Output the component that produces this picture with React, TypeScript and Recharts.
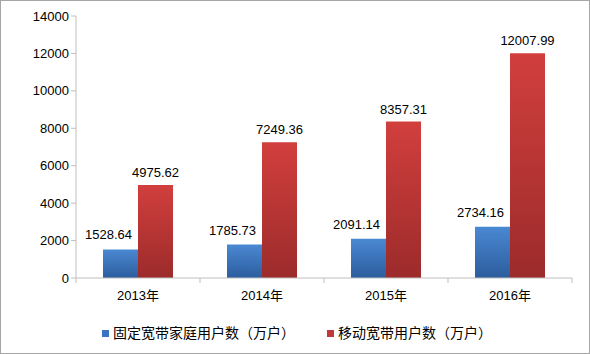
import { BarChart, Bar, XAxis, YAxis, Legend, LabelList } from 'recharts'

const years = ['2013年', '2014年', '2015年', '2016年']
const fixedUsers = [1528.64, 1785.73, 2091.14, 2734.16]
const mobileUsers = [4975.62, 7249.36, 8357.31, 12007.99]
const yTicks = [0, 2000, 4000, 6000, 8000, 10000, 12000, 14000]

const fixedName = '固定宽带家庭用户数（万户）'
const mobileName = '移动宽带用户数（万户）'

const data = years.map((year, i) => ({
  year,
  fixed: fixedUsers[i],
  mobile: mobileUsers[i],
}))

const font = '"Liberation Sans", "Noto Sans CJK SC", sans-serif'
const axisColor = '#bfbfbf'
const BAND = 124

const CategoryTick = (props: any) => {
  const { x, y, payload, index } = props
  return (
    <g>
      <line x1={x - BAND / 2} y1={y - 8} x2={x - BAND / 2} y2={y - 3} stroke={axisColor} />
      {index === years.length - 1 && (
        <line x1={x + BAND / 2} y1={y - 8} x2={x + BAND / 2} y2={y - 3} stroke={axisColor} />
      )}
      <text x={x} y={y + 14} textAnchor="middle" fontSize={13} fill="#000" fontFamily={font}>
        {payload.value}
      </text>
    </g>
  )
}

// blue labels sit a bit left of the bar, like the original
const FixedLabel = (props: any) => {
  const { x, y, width, value } = props
  return (
    <text x={x + width / 2 - 12} y={y - 10} textAnchor="middle" fontSize={13} fill="#000" fontFamily={font}>
      {value}
    </text>
  )
}

const renderLegend = () => (
  <div style={{ display: 'flex', justifyContent: 'flex-start', paddingLeft: 102, fontSize: 14, lineHeight: '20px', fontFamily: font, color: '#000' }}>
    <span style={{ display: 'flex', alignItems: 'center', marginRight: 32 }}>
      <span style={{ width: 7, height: 7, background: '#3a75c4', marginRight: 4, display: 'inline-block' }} />
      {fixedName}
    </span>
    <span style={{ display: 'flex', alignItems: 'center' }}>
      <span style={{ width: 7, height: 7, background: '#c0393a', marginRight: 4, display: 'inline-block' }} />
      {mobileName}
    </span>
  </div>
)

export default function App() {
  return (
    <div style={{ position: 'absolute', left: 0, top: 0, width: 590, height: 354, background: '#fff' }}>
      <div style={{ position: 'absolute', left: 0, top: 0, width: 590, height: 354, border: '1px solid #a6a6a6', boxSizing: 'border-box', pointerEvents: 'none', zIndex: 2 }} />
      <BarChart
        width={590}
        height={354}
        data={data}
        margin={{ top: 16, right: 18, left: 0, bottom: 0 }}
        barCategoryGap={27}
        barGap={0}
      >
        <defs>
          <linearGradient id="blueGrad" x1="0" y1="0" x2="0" y2="1">
            <stop offset="0%" stopColor="#4a88d2" />
            <stop offset="100%" stopColor="#2c5d9e" />
          </linearGradient>
          <linearGradient id="redGrad" x1="0" y1="0" x2="0" y2="1">
            <stop offset="0%" stopColor="#d13f3d" />
            <stop offset="100%" stopColor="#9c2b2b" />
          </linearGradient>
        </defs>
        <XAxis
          dataKey="year"
          stroke={axisColor}
          tickLine={false}
          tick={<CategoryTick />}
          height={44}
          interval={0}
        />
        <YAxis
          domain={[0, 14000]}
          ticks={yTicks}
          width={76}
          stroke={axisColor}
          tickSize={5}
          tick={{ fill: '#000', fontSize: 13, fontFamily: font }}
          interval={0}
        />
        <Legend
          verticalAlign="bottom"
          height={32}
          content={renderLegend}
          wrapperStyle={{ top: 323, bottom: 'auto', left: 0, width: 590 }}
        />
        <Bar dataKey="fixed" name={fixedName} fill="url(#blueGrad)" isAnimationActive={false}>
          <LabelList dataKey="fixed" content={<FixedLabel />} />
        </Bar>
        <Bar dataKey="mobile" name={mobileName} fill="url(#redGrad)" isAnimationActive={false}>
          <LabelList dataKey="mobile" position="top" offset={8} fill="#000" fontSize={13} fontFamily={font} />
        </Bar>
      </BarChart>
    </div>
  )
}
